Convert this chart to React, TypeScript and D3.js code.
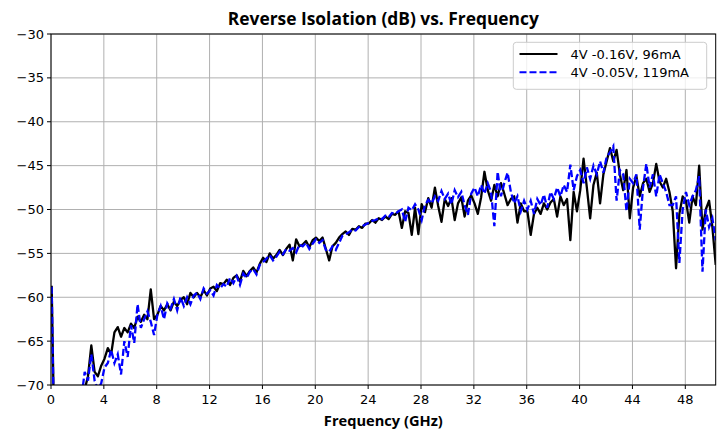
import React from "react";
import * as d3 from "d3";

// Frequency sweep (GHz): start + step * index
const FREQ_START = 0.05;
const FREQ_STEP = 0.25;

// Reverse isolation (dB) — 4V -0.16V, 96mA
const seriesBlack: number[] = [
  -58.7, -80, -78, -76,
  -77, -75, -76, -74,
  -74, -72.5, -70.5, -69,
  -65.5, -68.5, -69, -67.8,
  -67, -65.8, -66.5, -64,
  -63.4, -64.5, -63.5, -64,
  -63, -63.5, -62.2, -62.8,
  -62, -62.5, -59.1, -62.5,
  -62, -61, -61.5, -60.8,
  -61.5, -60.5, -61, -60.3,
  -60, -60.8, -59.5, -60,
  -59.5, -60, -59.2, -59.8,
  -59, -58.8, -59.3, -58.4,
  -58.5, -58, -58.6, -57.8,
  -57.5, -58.2, -57, -57.6,
  -57, -56.6, -57.2, -56.2,
  -55.5, -56, -55, -55.6,
  -55.2, -54.6, -55.2, -54.5,
  -54, -55.8, -53.4, -54.2,
  -54, -53.6, -54.3, -53.5,
  -53.2, -53.6, -53.2, -54.5,
  -55.8, -54.2, -53.8, -53.2,
  -52.8, -52.5, -52.9, -52.2,
  -52.3, -51.9, -52.1, -51.6,
  -51.6, -51.2, -51.5, -51.0,
  -51.2, -50.8, -51.1, -50.5,
  -50.6, -50.2, -52.1, -50.2,
  -50.4, -52.9, -49.8, -52.8,
  -49.4, -50.3, -48.7, -49.8,
  -47.5, -49.6, -51.4, -48.8,
  -49.6, -48.7, -51.2, -49.3,
  -48.6, -50.8, -49.0, -48.4,
  -49.3, -50.5, -48.6, -45.7,
  -47.8, -49.0, -47.2, -48.5,
  -47.0, -48.2, -49.5, -48.8,
  -48.5, -51.5, -49.3, -50.2,
  -50.2, -52.9, -50.5, -49.8,
  -50.5, -49.3, -50.0, -49.2,
  -48.8, -50.8, -48.5, -49.5,
  -48.8, -53.5, -48.0, -50.2,
  -47.8, -44.2, -47.5, -51.0,
  -47.2, -45.8, -49.3, -46.0,
  -44.5, -43.0, -44.5, -43.2,
  -46.0, -47.8, -45.5, -51.0,
  -47.5, -46.2, -48.5, -47.0,
  -46.5, -48.0, -47.0, -44.8,
  -46.8, -47.5, -46.5, -48.0,
  -50.2, -56.7, -50.5, -48.5,
  -49.0, -51.5, -48.5, -49.5,
  -45.0, -52.3, -50.0, -49.0,
  -52.0, -56.3,
];

// Reverse isolation (dB) — 4V -0.05V, 119mA
const seriesBlue: number[] = [
  -58.8, -82, -79, -77,
  -76, -77, -75, -74.5,
  -73.5, -71.5, -68.5, -69.5,
  -66.5, -69.5, -70.5, -69.8,
  -68.0, -67.5, -66.0, -67.5,
  -66.5, -68.8, -65.0, -66.8,
  -63.2, -65.2, -60.8, -63.5,
  -62.5, -61.6, -62.8, -64.3,
  -62.0, -61.0, -62.5, -60.7,
  -61.3, -60.2, -61.5, -60.0,
  -61.0, -60.0, -60.8, -59.8,
  -59.5, -60.2, -59.0, -59.6,
  -59.2, -59.8, -58.6, -59.0,
  -58.5, -58.8, -57.8, -58.4,
  -57.6, -58.6, -57.3, -57.8,
  -57.1, -56.8, -57.4, -56.3,
  -56.0, -55.6, -55.2, -55.8,
  -55.4, -54.8, -55.1, -54.5,
  -54.7, -54.4, -54.9, -54.0,
  -54.2, -53.8, -54.5, -53.9,
  -53.4, -53.8, -53.5, -54.6,
  -54.8, -54.2, -54.6, -53.8,
  -53.0, -52.8, -52.6, -52.3,
  -52.4, -52.0, -51.9, -51.7,
  -51.5, -51.3, -51.2, -51.0,
  -51.1, -50.7, -50.9, -50.4,
  -50.5, -50.2, -50.0, -51.4,
  -49.8, -50.1, -49.4, -50.0,
  -51.2, -49.5, -48.9, -49.3,
  -48.5, -49.0, -47.9, -48.8,
  -48.2, -49.4, -47.8, -48.6,
  -48.0, -49.5, -50.6, -48.2,
  -47.5, -48.5, -47.2, -48.2,
  -47.0, -48.0, -51.9, -45.7,
  -48.5, -47.0, -45.8, -48.0,
  -49.3, -48.5, -50.2, -49.0,
  -50.0, -49.0, -50.5, -48.8,
  -49.5, -48.3, -49.8, -48.0,
  -48.8, -47.5, -48.5, -47.2,
  -48.0, -44.9, -47.8, -46.2,
  -45.5, -47.0, -45.2, -46.5,
  -45.0, -46.0, -44.5, -45.8,
  -44.0, -43.5, -42.8, -49.0,
  -45.5, -46.0, -50.2, -46.5,
  -47.0, -46.0, -52.3, -47.5,
  -44.8, -47.5, -46.0, -48.5,
  -46.0, -47.0, -48.0, -49.5,
  -49.5, -48.5, -56.1, -50.0,
  -48.0, -49.5, -48.5, -47.8,
  -46.2, -57.1, -50.0, -52.0,
  -51.0, -53.5,
];

const xTicks = [0, 4, 8, 12, 16, 20, 24, 28, 32, 36, 40, 44, 48];
const yTicks = [-70, -65, -60, -55, -50, -45, -40, -35, -30];
const legendLabels = ["4V -0.16V, 96mA", "4V -0.05V, 119mA"];
const TITLE = "Reverse Isolation (dB) vs. Frequency";
const XLABEL = "Frequency (GHz)";

const W = 724;
const H = 433;
const L = 51;
const R = 715.7;
const T = 34;
const B = 385;

export default function App() {
  const x = d3.scaleLinear().domain([0, 50.3]).range([L, R]);
  const y = d3.scaleLinear().domain([-70, -30]).range([B, T]);
  const toPts = (vals: number[]) =>
    vals.map((v, i) => [FREQ_START + FREQ_STEP * i, v] as [number, number]);
  const line = d3
    .line<[number, number]>()
    .x((d) => x(d[0]))
    .y((d) => y(d[1]));
  const tickFont = "'DejaVu Sans', sans-serif";
  const boldFont = "'Open Sans', sans-serif";
  const minus = (v: number) => (v < 0 ? "\u2212" + Math.abs(v) : String(v));

  return (
    <svg
      width={W}
      height={H}
      style={{ position: "absolute", left: 0, top: 0, background: "#fff" }}
    >
      <defs>
        <clipPath id="plotclip">
          <rect x={L} y={T} width={R - L} height={B - T} />
        </clipPath>
      </defs>
      {/* grid */}
      {xTicks.map((t) => (
        <line key={"gx" + t} x1={x(t)} x2={x(t)} y1={T} y2={B} stroke="#b0b0b0" strokeWidth={1} />
      ))}
      {yTicks.map((t) => (
        <line key={"gy" + t} x1={L} x2={R} y1={y(t)} y2={y(t)} stroke="#b0b0b0" strokeWidth={1} />
      ))}
      {/* data */}
      <g clipPath="url(#plotclip)">
        <path d={line(toPts(seriesBlack)) || ""} fill="none" stroke="#000" strokeWidth={2.3} strokeLinejoin="round" />
        <path
          d={line(toPts(seriesBlue)) || ""}
          fill="none"
          stroke="#0000ff"
          strokeWidth={2.3}
          strokeDasharray="7,3"
        />
      </g>
      {/* spines */}
      <rect x={L} y={T} width={R - L} height={B - T} fill="none" stroke="#000" strokeWidth={1} />
      {/* ticks */}
      {xTicks.map((t) => (
        <g key={"tx" + t}>
          <line x1={x(t)} x2={x(t)} y1={B} y2={B + 4} stroke="#000" />
          <text x={x(t)} y={B + 19} textAnchor="middle" fontFamily={tickFont} fontSize={13} fill="#000">
            {t}
          </text>
        </g>
      ))}
      {yTicks.map((t) => (
        <g key={"ty" + t}>
          <line x1={L - 4} x2={L} y1={y(t)} y2={y(t)} stroke="#000" />
          <text x={L - 7} y={y(t) + 4.5} textAnchor="end" fontFamily={tickFont} fontSize={13} fill="#000">
            {minus(t)}
          </text>
        </g>
      ))}
      {/* title & label */}
      <text
        x={(L + R) / 2}
        y={25}
        textAnchor="middle"
        fontFamily={boldFont}
        fontWeight="bold"
        fontSize={17}
        textLength={311}
        lengthAdjust="spacingAndGlyphs"
        fill="#000"
      >
        {TITLE}
      </text>
      <text
        x={(L + R) / 2}
        y={426}
        textAnchor="middle"
        fontFamily={boldFont}
        fontWeight="bold"
        fontSize={13.3}
        textLength={119}
        lengthAdjust="spacingAndGlyphs"
        fill="#000"
      >
        {XLABEL}
      </text>
      {/* legend */}
      <g>
        <rect x={513.3} y={42.3} width={193.4} height={47} rx={3} fill="#fff" fillOpacity={0.8} stroke="#cccccc" />
        <line x1={519.5} x2={557.5} y1={54} y2={54} stroke="#000" strokeWidth={2} />
        <line x1={519.5} x2={557.5} y1={72.3} y2={72.3} stroke="#0000ff" strokeWidth={2} strokeDasharray="7,3" />
        <text x={570.5} y={58.5} fontFamily={tickFont} fontSize={13} fill="#000">
          {legendLabels[0]}
        </text>
        <text x={570.5} y={77} fontFamily={tickFont} fontSize={13} fill="#000">
          {legendLabels[1]}
        </text>
      </g>
    </svg>
  );
}
